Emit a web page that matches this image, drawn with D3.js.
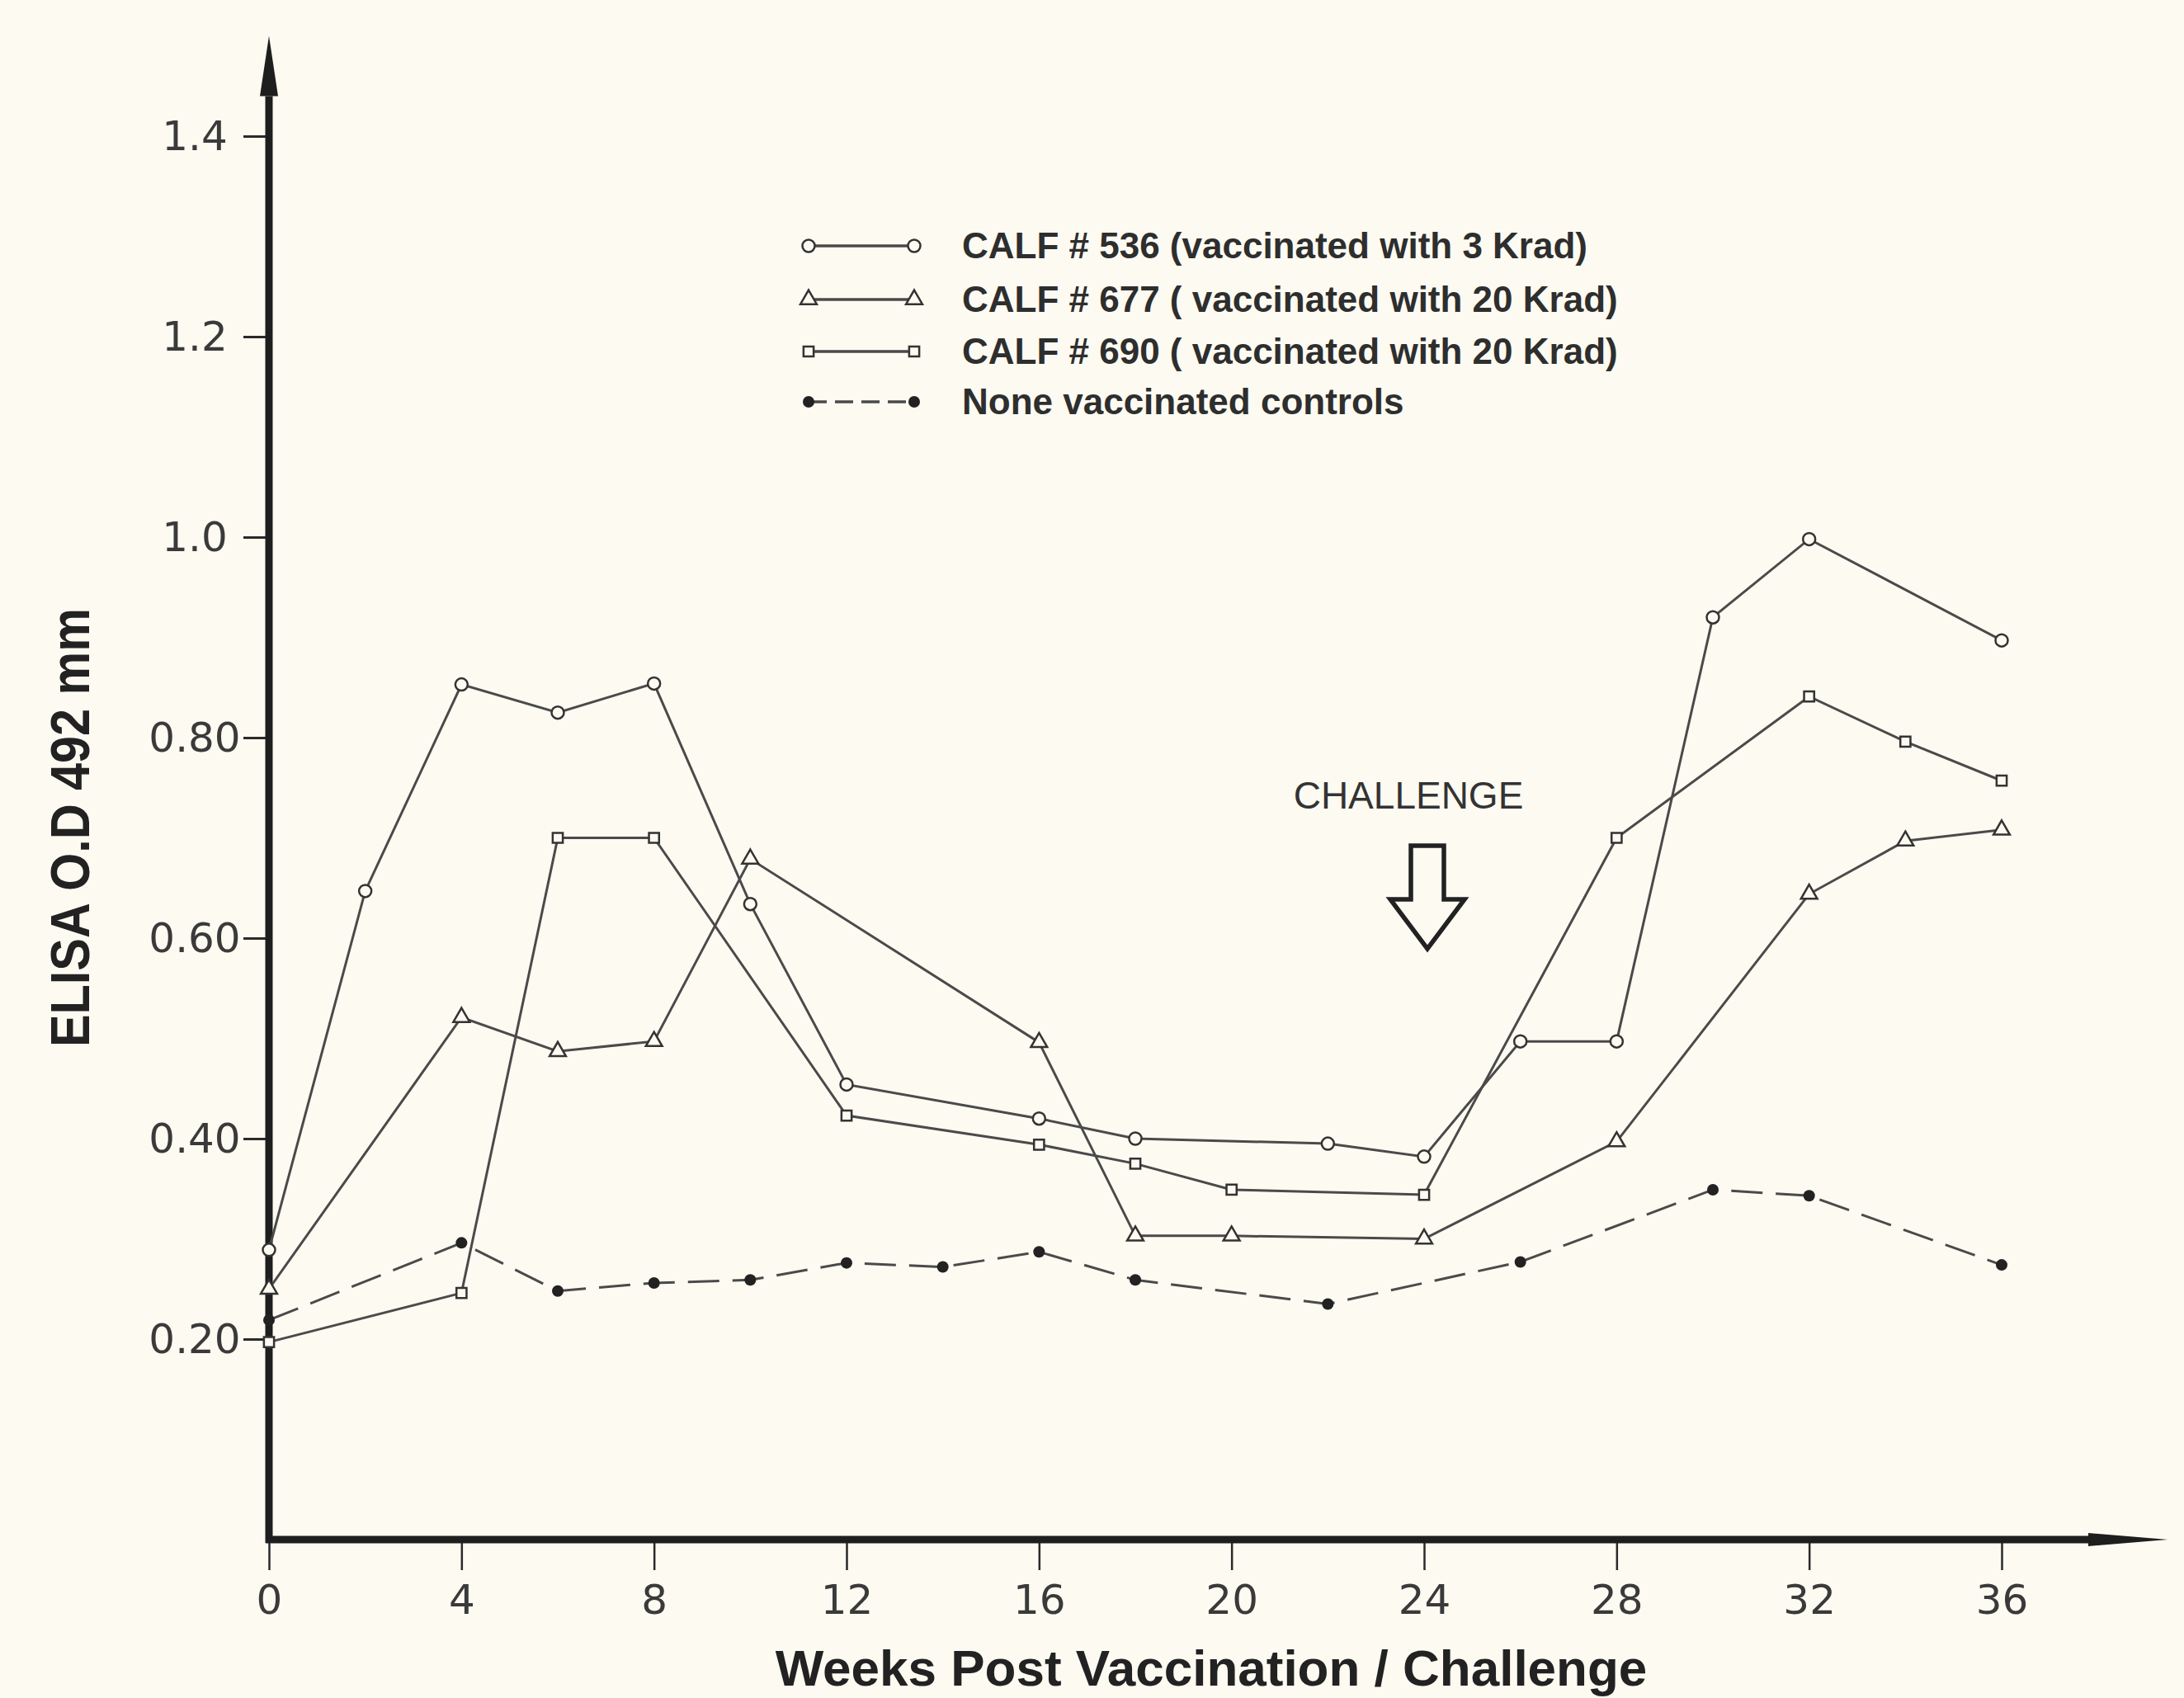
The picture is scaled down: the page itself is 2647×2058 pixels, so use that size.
<!DOCTYPE html>
<html>
<head>
<meta charset="utf-8">
<script src="https://cdn.jsdelivr.net/npm/d3@7"></script>
<style>
  html, body { margin: 0; padding: 0; background: #fcfaf1; }
  svg { display: block; }
</style>
</head>
<body>
<svg id="chart" width="2647" height="2058"></svg>
<script>
// size of the picture
const width = 2647;
const height = 2058;

// data (weeks, ELISA O.D.)
const weeks536 = [0, 2, 4, 6, 8, 10, 12, 16, 18, 22, 24, 26, 28, 30, 32, 36];
const values536 = [0.289, 0.647, 0.853, 0.825, 0.854, 0.634, 0.454, 0.42, 0.40, 0.395, 0.382, 0.497, 0.497, 0.92, 0.998, 0.897];

const weeks677 = [0, 4, 6, 8, 10, 16, 18, 20, 24, 28, 32, 34, 36];
const values677 = [0.25, 0.521, 0.487, 0.497, 0.679, 0.496, 0.303, 0.303, 0.30, 0.397, 0.644, 0.697, 0.708];

const weeks690 = [0, 4, 6, 8, 12, 16, 18, 20, 24, 28, 32, 34, 36];
const values690 = [0.197, 0.246, 0.70, 0.70, 0.423, 0.394, 0.375, 0.349, 0.344, 0.70, 0.841, 0.796, 0.757];

const weeksControl = [0, 4, 6, 8, 10, 12, 14, 16, 18, 22, 26, 30, 32, 36];
const valuesControl = [0.219, 0.296, 0.248, 0.256, 0.259, 0.276, 0.272, 0.287, 0.259, 0.235, 0.277, 0.349, 0.343, 0.274];

const seriesNames = [
  "CALF # 536 (vaccinated with 3 Krad)",
  "CALF # 677 ( vaccinated with 20 Krad)",
  "CALF # 690 ( vaccinated with 20 Krad)",
  "None vaccinated controls"
];

const xTicks = [0, 4, 8, 12, 16, 20, 24, 28, 32, 36];
const yTicks = [0.2, 0.4, 0.6, 0.8, 1.0, 1.2, 1.4];
const yTickLabels = ["0.20", "0.40", "0.60", "0.80", "1.0", "1.2", "1.4"];

const bg = "#fcfaf1";
const ink = "#2a2a2a";
const lineInk = "#4a4a4a";

const series = [
  { name: seriesNames[0], weeks: weeks536, values: values536, marker: "circle", dash: null },
  { name: seriesNames[1], weeks: weeks677, values: values677, marker: "triangle", dash: null },
  { name: seriesNames[2], weeks: weeks690, values: values690, marker: "square", dash: null },
  { name: seriesNames[3], weeks: weeksControl, values: valuesControl, marker: "dot", dash: "38,16" }
];

const svg = d3.select("#chart");

svg.append("rect")
  .attr("width", width)
  .attr("height", height)
  .attr("fill", bg);

const x = d3.scaleLinear()
  .domain([0, 36])
  .range([326, 2426]);

const y = d3.scaleLinear()
  .domain([0, 1.4])
  .range([1866, 165]);

// y axis
const yAxis = svg.append("g")
  .attr("transform", "translate(" + x(0) + ",0)")
  .call(d3.axisLeft(y)
    .tickValues(yTicks)
    .tickFormat((d, i) => yTickLabels[i])
    .tickSize(31)
    .tickSizeOuter(0));

yAxis.select(".domain").remove();
yAxis.selectAll(".tick line")
  .attr("stroke", ink)
  .attr("stroke-width", 3);
yAxis.selectAll(".tick text")
  .attr("x", -90)
  .attr("text-anchor", "middle")
  .attr("fill", "#3a3a3a")
  .style("font-family", "DejaVu Sans")
  .style("font-size", "50px");

// x axis
const xAxis = svg.append("g")
  .attr("transform", "translate(0," + y(0) + ")")
  .call(d3.axisBottom(x)
    .tickValues(xTicks)
    .tickSize(37)
    .tickPadding(17)
    .tickSizeOuter(0));

xAxis.select(".domain").remove();
xAxis.selectAll(".tick line")
  .attr("stroke", ink)
  .attr("stroke-width", 2.5);
xAxis.selectAll(".tick text")
  .attr("fill", "#3a3a3a")
  .style("font-family", "DejaVu Sans")
  .style("font-size", "50px");

// heavy axis lines with arrow heads
svg.append("line")
  .attr("x1", x(0)).attr("y1", y(0) + 4)
  .attr("x2", x(0)).attr("y2", y(1.44))
  .attr("stroke", "#1e1e1e")
  .attr("stroke-width", 9);

svg.append("path")
  .attr("d", "M" + (x(0) - 11) + "," + y(1.44) + "L" + x(0) + "," + y(1.5) + "L" + (x(0) + 11) + "," + y(1.44) + "Z")
  .attr("fill", "#1e1e1e");

svg.append("line")
  .attr("x1", x(0) - 4).attr("y1", y(0))
  .attr("x2", x(37.8)).attr("y2", y(0))
  .attr("stroke", "#1e1e1e")
  .attr("stroke-width", 9);

svg.append("path")
  .attr("d", "M" + x(37.8) + "," + (y(0) - 8) + "L" + x(39.45) + "," + y(0) + "L" + x(37.8) + "," + (y(0) + 8) + "Z")
  .attr("fill", "#1e1e1e");

// marker helper
function drawMarker(g, type, px, py) {
  if (type === "circle") {
    g.append("circle")
      .attr("cx", px).attr("cy", py).attr("r", 7.5)
      .attr("fill", bg).attr("stroke", "#333").attr("stroke-width", 2.5);
  } else if (type === "dot") {
    g.append("circle")
      .attr("cx", px).attr("cy", py).attr("r", 7)
      .attr("fill", "#222");
  } else {
    const sym = type === "triangle" ? d3.symbolTriangle : d3.symbolSquare;
    g.append("path")
      .attr("d", d3.symbol().type(sym).size(type === "triangle" ? 170 : 150)())
      .attr("transform", "translate(" + px + "," + py + ")")
      .attr("fill", bg).attr("stroke", "#333").attr("stroke-width", 2.5);
  }
}

const line = d3.line()
  .x(d => x(d[0]))
  .y(d => y(d[1]));

// series lines
series.forEach(s => {
  const pts = s.weeks.map((w, i) => [w, s.values[i]]);
  svg.append("path")
    .datum(pts)
    .attr("d", line)
    .attr("fill", "none")
    .attr("stroke", lineInk)
    .attr("stroke-width", 3)
    .attr("stroke-dasharray", s.dash);
});

// markers on top
const markerLayer = svg.append("g");
series.forEach(s => {
  s.weeks.forEach((w, i) => drawMarker(markerLayer, s.marker, x(w), y(s.values[i])));
});

// legend
const legend = svg.append("g");
const legendRows = [298, 363, 426, 487];
series.forEach((s, i) => {
  const ly = legendRows[i];
  legend.append("line")
    .attr("x1", 980).attr("y1", ly)
    .attr("x2", 1108).attr("y2", ly)
    .attr("stroke", lineInk)
    .attr("stroke-width", 3.5)
    .attr("stroke-dasharray", s.dash ? "22,10" : null);
  drawMarker(legend, s.marker, 980, ly);
  drawMarker(legend, s.marker, 1108, ly);
  legend.append("text")
    .attr("x", 1166)
    .attr("y", ly + 15)
    .attr("fill", "#2e2e2e")
    .style("font-family", "Liberation Sans")
    .style("font-weight", "bold")
    .style("font-size", "44px")
    .text(s.name);
});

// challenge marker at week 24
svg.append("text")
  .attr("x", x(24) - 19)
  .attr("y", 980)
  .attr("text-anchor", "middle")
  .attr("fill", "#333")
  .style("font-family", "Liberation Sans")
  .style("font-size", "46px")
  .text("CHALLENGE");

const ax = x(24) + 4;
svg.append("path")
  .attr("d", "M" + (ax - 20) + ",1025 L" + (ax + 20) + ",1025 L" + (ax + 20) + ",1090 L" + (ax + 45) + ",1090 L" + ax + ",1150 L" + (ax - 45) + ",1090 L" + (ax - 20) + ",1090 Z")
  .attr("fill", bg)
  .attr("stroke", "#222")
  .attr("stroke-width", 5.5)
  .attr("stroke-linejoin", "miter");

// axis titles
svg.append("text")
  .attr("transform", "translate(" + 108 + "," + 1003 + ") rotate(-90)")
  .attr("text-anchor", "middle")
  .attr("fill", "#222")
  .attr("textLength", 532)
  .attr("lengthAdjust", "spacingAndGlyphs")
  .style("font-family", "Liberation Sans")
  .style("font-weight", "bold")
  .style("font-size", "66px")
  .text("ELISA O.D 492 mm");

svg.append("text")
  .attr("x", 1468)
  .attr("y", 2043)
  .attr("text-anchor", "middle")
  .attr("fill", "#222")
  .style("font-family", "Liberation Sans")
  .style("font-weight", "bold")
  .style("font-size", "62px")
  .text("Weeks Post Vaccination / Challenge");
</script>
</body>
</html>
